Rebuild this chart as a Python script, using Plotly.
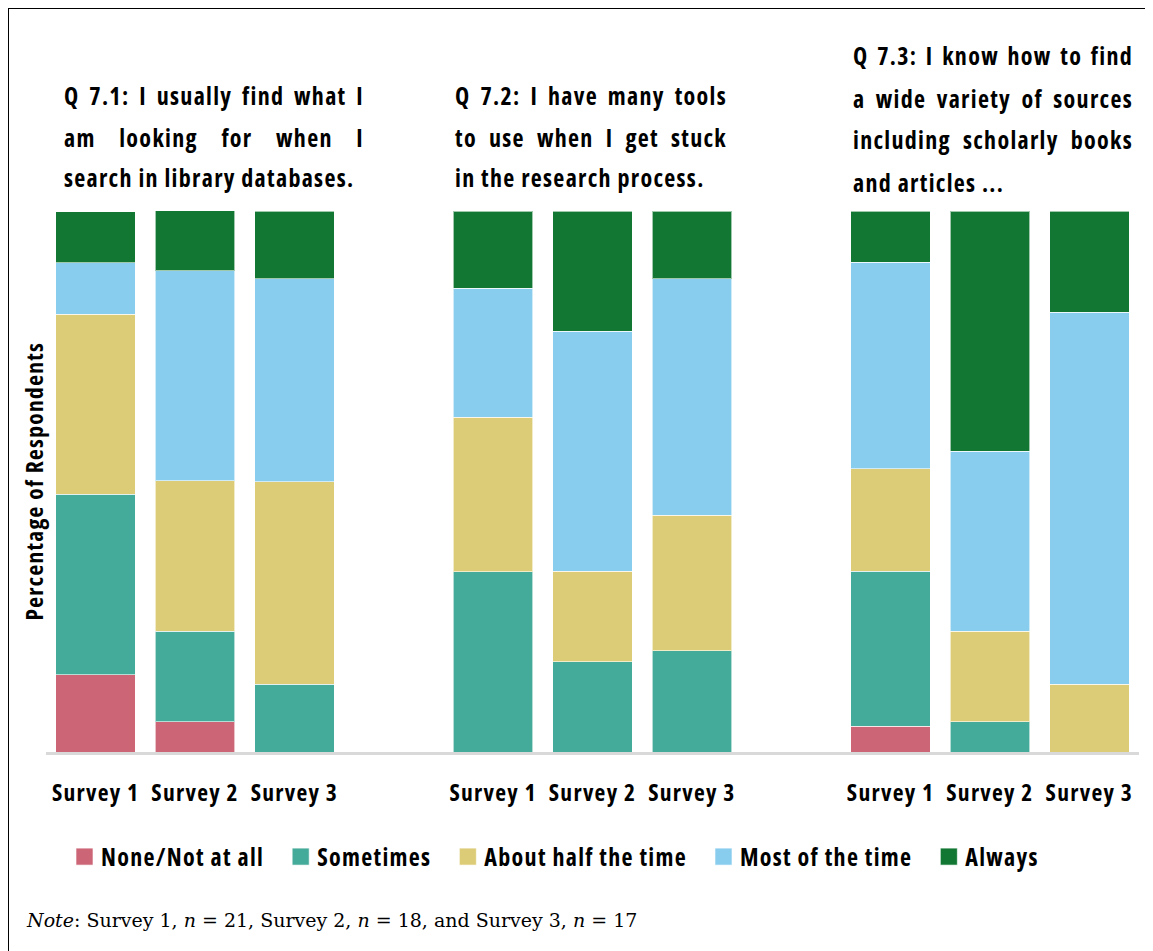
import json
import plotly.graph_objects as go

# ---- data ----
questions = [
    ["Q 7.1: I usually find what I", "am looking for when I", "search in library databases."],
    ["Q 7.2: I have many tools", "to use when I get stuck", "in the research process."],
    ["Q 7.3: I know how to find", "a wide variety of sources", "including scholarly books", "and articles ..."],
]
surveys = ["Survey 1", "Survey 2", "Survey 3"]
categories = ["None/Not at all", "Sometimes", "About half the time", "Most of the time", "Always"]
colors = ["#CC6677", "#44AA99", "#DDCC77", "#88CCEE", "#117733"]

# order: Q7.1 S1,S2,S3 | Q7.2 S1,S2,S3 | Q7.3 S1,S2,S3  (percent)
none_vals = [14.3, 5.6, 0, 0, 0, 0, 4.8, 0, 0]
sometimes_vals = [33.3, 16.7, 12.5, 33.3, 16.7, 18.75, 28.6, 5.6, 0]
half_vals = [33.3, 27.8, 37.5, 28.6, 16.7, 25.0, 19.0, 16.7, 12.5]
most_vals = [9.5, 38.9, 37.5, 23.8, 44.4, 43.75, 38.1, 33.3, 68.75]
always_vals = [9.5, 11.1, 12.5, 14.3, 22.2, 12.5, 9.5, 44.4, 18.75]
series = [none_vals, sometimes_vals, half_vals, most_vals, always_vals]

note_text = "<i>Note</i>: Survey 1, <i>n</i> = 21, Survey 2, <i>n</i> = 18, and Survey 3, <i>n</i> = 17"

# ---- layout helpers (screen px, page body has 8px offset) ----
OFF = 8
W, H = 1153, 951
L, R, T, B = 46 - OFF, 22, 211 - OFF, 207
PW, PH = W - L - R, H - T - B
def px_x(x):
    return (x - OFF - L) / PW
def px_y(y):
    return (H - B - (y - OFF)) / PH

xpos = [g * 4 + s for g in range(len(questions)) for s in range(len(surveys))]
xlabels = [s for _ in questions for s in surveys]

FONT = "Open Sans"

fig = go.Figure()
for name, vals, col in zip(categories, series, colors):
    fig.add_trace(go.Bar(
        x=xpos, y=vals, name=name, width=0.8,
        marker=dict(color=col, line=dict(color="rgba(255,255,255,0.6)", width=1)),
    ))

annotations = []
justify = []  # [annotation index, target width px]
title_y = [[96, 137, 177], [96, 137, 177], [56, 98, 140, 182]]
title_w = [300, 272, 280]
for g, lines in enumerate(questions):
    for i, line in enumerate(lines):
        if i < len(lines) - 1:
            justify.append([len(annotations), title_w[g]])
        annotations.append(dict(
            x=g * 4 - 0.4 + (0.06 if g == 0 else 0), xref="x",
            y=px_y(title_y[g][i]), yref="paper",
            text=line, showarrow=False, xanchor="left", yanchor="middle", align="left",
            font=dict(family=FONT, size=24, color="black", weight="bold"),
        ))
annotations.append(dict(
    x=px_x(33), xref="paper", y=0.5, yref="paper", text="Percentage of Respondents",
    textangle=-90, showarrow=False, xanchor="center", yanchor="middle",
    font=dict(family=FONT, size=23.5, color="black", weight="bold"),
))
annotations.append(dict(
    x=px_x(24), xref="paper", y=px_y(920), yref="paper", text=note_text,
    showarrow=False, xanchor="left", yanchor="middle",
    font=dict(family="DejaVu Serif", size=19, color="black"),
))

fig.update_layout(
    width=W, height=H,
    margin=dict(l=L, r=R, t=T, b=B),
    paper_bgcolor="white", plot_bgcolor="white",
    barmode="stack", bargap=0.2,
    showlegend=True,
    legend=dict(orientation="h", x=px_x(61), xanchor="left", y=px_y(857), yanchor="middle",
                font=dict(family=FONT, size=24, color="black", weight="bold"), traceorder="normal",
                itemclick=False, bgcolor="rgba(0,0,0,0)"),
    annotations=annotations,
    shapes=[dict(type="rect", xref="paper", yref="paper",
                 x0=px_x(8), x1=px_x(1175), y0=px_y(990), y1=px_y(8),
                 line=dict(color="black", width=2), fillcolor="rgba(0,0,0,0)", layer="above")],
)
fig.update_xaxes(range=[-0.5, 10.5], tickvals=xpos, ticktext=xlabels, showgrid=False,
                 showline=True, linecolor="#d9d9d9", linewidth=3, zeroline=False,
                 ticks="outside", ticklen=0, ticklabelstandoff=18, tickangle=0,
                 tickfont=dict(family=FONT, size=23.5, color="black", weight="bold"))
fig.update_yaxes(range=[0, 100], showticklabels=False, showgrid=False, zeroline=False, showline=False)

post = """
var gd = document.getElementById('{plot_id}');
var s = document.createElement('style');
s.innerHTML = "text { font-stretch: 75%; letter-spacing: 1.3px; } text[style*='DejaVu Serif'] { font-stretch: 100%; letter-spacing: 0px; }";
document.head.appendChild(s);
function fix(o) { return JSON.parse(JSON.stringify(o).split('"Open Sans"').join('"Open Sans, sans-serif"')); }
var JUST = __JUST__;
Plotly.newPlot(gd, fix(gd.data), fix(gd.layout)).then(function() {
  JUST.forEach(function(p) {
    var g = gd.querySelector('.annotation[data-index="' + p[0] + '"]');
    if (!g) return;
    var t = g.querySelector('text.annotation-text');
    var len = t.getBBox().width;
    var n = (t.textContent.match(/ /g) || []).length;
    if (n > 0 && p[1] > len) t.style.wordSpacing = ((p[1] - len) / n) + 'px';
  });
  gd.querySelectorAll('.legend .legendpoints path').forEach(function(p) {
    p.setAttribute('d', 'M12,8.5H-5V-8.5H12Z');
  });
  gd.querySelectorAll('.legend .scrollbox, .legend').forEach(function(el) {
    el.removeAttribute('clip-path');
  });
  var items = gd.querySelectorAll('.legend .traces');
  var x = null;
  items.forEach(function(it) {
    var m = /translate\\(([-0-9.e]+)[ ,]+([-0-9.e]+)\\)/.exec(it.getAttribute('transform') || '');
    if (!m) return;
    if (x === null) x = parseFloat(m[1]);
    it.setAttribute('transform', 'translate(' + x + ',' + m[2] + ')');
    var t = it.querySelector('text.legendtext');
    x += 40 + t.getBBox().width + 13;
  });
});
""".replace("__JUST__", json.dumps(justify))
fig.write_html("out.html", post_script=post)
